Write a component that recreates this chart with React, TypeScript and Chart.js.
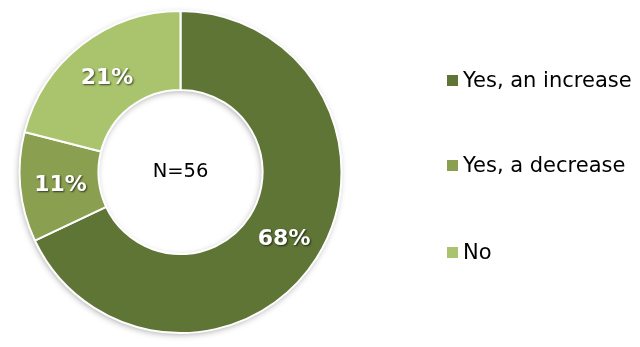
import React, { useEffect, useRef } from "react";
import { Chart, registerables } from "chart.js";

Chart.register(...registerables);

const categories = ["Yes, an increase", "Yes, a decrease", "No"];
const values = [68, 11, 21];
const valueLabels = ["68%", "11%", "21%"];
const centerLabel = "N=56";
const colors = ["#5E7535", "#8AA050", "#A9C46C"];
const legendRowY = [81, 166, 253];

const ringShadowPlugin = {
  id: "ringShadow",
  beforeDatasetsDraw(chart: any) {
    const meta = chart.getDatasetMeta(0);
    const a = meta.data[0];
    if (!a) return;
    const ctx = chart.ctx;
    ctx.save();
    ctx.shadowColor = "rgba(0,0,0,0.4)";
    ctx.shadowBlur = 7;
    ctx.shadowOffsetX = -1;
    ctx.shadowOffsetY = 2;
    ctx.fillStyle = "#ffffff";
    ctx.beginPath();
    ctx.arc(a.x, a.y, a.outerRadius - 1, 0, Math.PI * 2);
    ctx.arc(a.x, a.y, a.innerRadius + 1, 0, Math.PI * 2, true);
    ctx.fill();
    ctx.restore();
  },
};

const sliceLabelPlugin = {
  id: "sliceLabels",
  afterDatasetsDraw(chart: any) {
    const ctx = chart.ctx;
    const meta = chart.getDatasetMeta(0);
    ctx.save();
    ctx.textAlign = "center";
    ctx.textBaseline = "middle";
    ctx.font = "bold 22px 'DejaVu Sans'";
    ctx.fillStyle = "#ffffff";
    ctx.shadowColor = "rgba(0,0,0,0.65)";
    ctx.shadowOffsetX = 1;
    ctx.shadowOffsetY = 1;
    ctx.shadowBlur = 2;
    meta.data.forEach((arc: any, i: number) => {
      const p = arc.tooltipPosition();
      ctx.fillText(valueLabels[i], p.x + 1, p.y + 2);
    });
    ctx.shadowColor = "transparent";
    ctx.font = "19.5px 'DejaVu Sans'";
    ctx.fillStyle = "#000000";
    const a = meta.data[0];
    ctx.fillText(centerLabel, a.x, a.y);
    ctx.restore();
  },
};

const sideLegendPlugin = {
  id: "sideLegend",
  afterDraw(chart: any) {
    const ctx = chart.ctx;
    const labels = chart.data.labels as string[];
    const bg = chart.data.datasets[0].backgroundColor as string[];
    const boxX = chart.chartArea.right + 86;
    ctx.save();
    ctx.font = "21px 'DejaVu Sans'";
    ctx.textAlign = "left";
    ctx.textBaseline = "middle";
    labels.forEach((t, i) => {
      const y = legendRowY[i];
      ctx.fillStyle = bg[i];
      ctx.fillRect(boxX, y - 6, 11, 11);
      ctx.fillStyle = "#000000";
      ctx.fillText(t, boxX + 16, y + 1);
    });
    ctx.restore();
  },
};

export default function App() {
  const ref = useRef<HTMLCanvasElement | null>(null);
  useEffect(() => {
    if (!ref.current) return;
    const chart = new Chart(ref.current, {
      type: "doughnut",
      data: {
        labels: categories,
        datasets: [
          {
            data: values,
            backgroundColor: colors,
            borderColor: "#ffffff",
            borderWidth: 2,
          },
        ],
      },
      options: {
        animation: false,
        responsive: true,
        maintainAspectRatio: false,
        cutout: "51%",
        layout: { padding: { left: 0, top: 10, bottom: 13, right: 279 } },
        plugins: {
          tooltip: { enabled: false },
          legend: { display: false },
        },
      },
      plugins: [ringShadowPlugin, sliceLabelPlugin, sideLegendPlugin],
    });
    return () => chart.destroy();
  }, []);
  return (
    <div style={{ position: "fixed", left: 0, top: 0, width: 640, height: 347, background: "#fff" }}>
      <canvas ref={ref} />
    </div>
  );
}
